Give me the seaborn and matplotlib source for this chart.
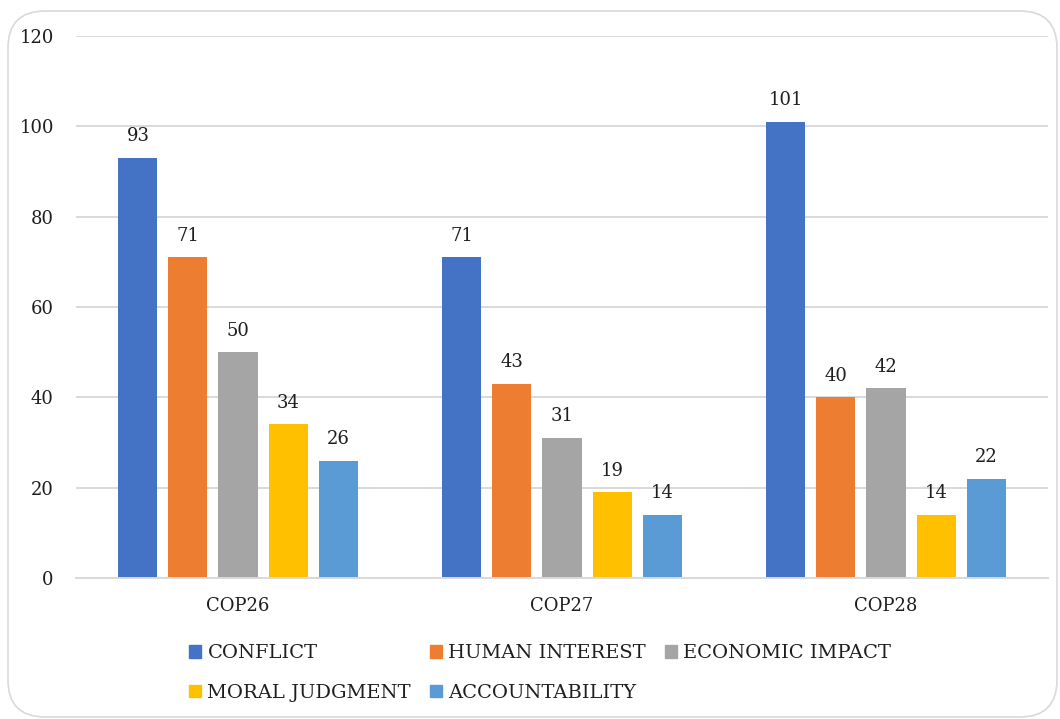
import matplotlib
matplotlib.use("Agg")
import matplotlib.pyplot as plt
from matplotlib.patches import FancyBboxPatch
import seaborn as sns
import pandas as pd

conferences = ["COP26", "COP27", "COP28"]
frames = ["CONFLICT", "HUMAN INTEREST", "ECONOMIC IMPACT", "MORAL JUDGMENT", "ACCOUNTABILITY"]
conflict = [93, 71, 101]
human_interest = [71, 43, 40]
economic_impact = [50, 31, 42]
moral_judgment = [34, 19, 14]
accountability = [26, 14, 22]
y_ticks = [0, 20, 40, 60, 80, 100, 120]

colors = ["#4472C4", "#ED7D31", "#A5A5A5", "#FFC000", "#5B9BD5"]
text_color = "#1E1E1E"

series = [conflict, human_interest, economic_impact, moral_judgment, accountability]
df = pd.DataFrame(
    [(c, f, v[i]) for f, v in zip(frames, series) for i, c in enumerate(conferences)],
    columns=["conference", "frame", "count"],
)

sns.set_theme(style="white")
plt.rcParams["font.family"] = ["DejaVu Serif"]

fig = plt.figure(figsize=(10.6, 7.19), dpi=100)
ax = fig.add_axes([76 / 1060, 1 - 578 / 719, (1048 - 76) / 1060, (578 - 36) / 719])

sns.barplot(
    data=df, x="conference", y="count", hue="frame",
    order=conferences, hue_order=frames, palette=colors,
    width=0.772, gap=0.22, ax=ax, legend=False, saturation=1,
    edgecolor="none",
)

for cont in ax.containers:
    ax.bar_label(cont, padding=9, fontsize=13, color=text_color)

ax.set_ylim(0, 120)
ax.set_xlim(-0.5, 2.5)
ax.set_yticks(y_ticks)
ax.yaxis.grid(True, color="#D9D9D9", linewidth=1.4)
ax.set_axisbelow(True)
for s in ["top", "right", "left"]:
    ax.spines[s].set_visible(False)
ax.spines["bottom"].set_color("#D9D9D9")
ax.spines["bottom"].set_linewidth(1.4)
ax.tick_params(axis="both", length=0, labelsize=13, colors=text_color)
ax.tick_params(axis="y", pad=16)
ax.tick_params(axis="x", pad=14)
ax.set_xlabel("")
ax.set_ylabel("")

# legend in row-major order: matplotlib fills legend columns first
handles = [plt.Rectangle((0, 0), 1, 1, color=c) for c in colors]
order = [0, 3, 1, 4, 2]
fig.legend(
    [handles[i] for i in order], [frames[i] for i in order],
    ncol=3, loc="center", bbox_to_anchor=(540 / 1060, 1 - 673 / 719),
    frameon=False, fontsize=14, handlelength=0.62, handleheight=0.62,
    handletextpad=0.35, columnspacing=0.95, labelspacing=1.12,
    labelcolor=text_color,
)

border = FancyBboxPatch(
    (8 / 1060, 1 - 717 / 719), (1057 - 8) / 1060, (717 - 11) / 719,
    boxstyle="round,pad=0,rounding_size=0.035", transform=fig.transFigure,
    facecolor="none", edgecolor="#D9D9D9", linewidth=1.2, mutation_aspect=1060 / 719,
)
fig.patches.append(border)

fig.savefig("out.png", dpi=100, facecolor="white")
